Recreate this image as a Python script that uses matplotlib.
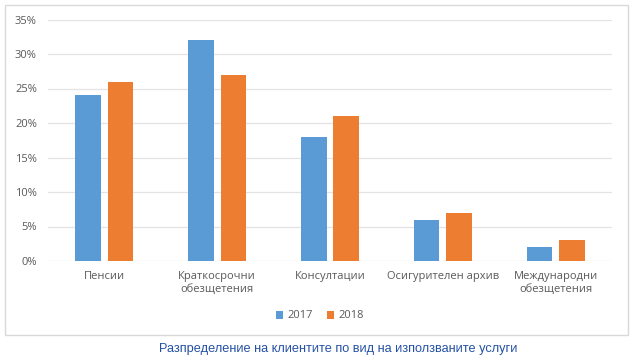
#!/usr/bin/env python3

# +
# import(s)
# -
import numpy as np
import matplotlib as mpl
mpl.use('Agg')
import matplotlib.pyplot as plt
from matplotlib.patches import Rectangle
from matplotlib.ticker import FuncFormatter

# +
# data
# -
categories = ['Пенсии', 'Краткосрочни\nобезщетения', 'Консултации',
              'Осигурителен архив', 'Международни\nобезщетения']
values_2017 = [24, 32, 18, 6, 2]
values_2018 = [26, 27, 21, 7, 3]
series_names = ['2017', '2018']
y_ticks = [0, 5, 10, 15, 20, 25, 30, 35]
caption = 'Разпределение на клиентите по вид на използваните услуги'

# +
# style
# -
plt.rcParams['font.family'] = ['Open Sans', 'DejaVu Sans']
BLUE = '#5B9BD5'
ORANGE = '#ED7D31'
GREY = '#595959'

fig = plt.figure(figsize=(6.35, 3.62), dpi=100)

# outer chart border
fig.patches.append(Rectangle((5 / 635, 1 - 335 / 362), 623 / 635, 330 / 362,
                             transform=fig.transFigure, fill=False,
                             edgecolor='#D9D9D9', linewidth=1.0))

ax = fig.add_axes([48 / 635, 1 - 261 / 362, 564 / 635, 241.5 / 362])

x = np.arange(len(categories))
w = 0.226
off = 0.144
ax.bar(x - off, values_2017, w, color=BLUE, label=series_names[0], zorder=3)
ax.bar(x + off, values_2018, w, color=ORANGE, label=series_names[1], zorder=3)

ax.set_xlim(-0.5, len(categories) - 0.5)
ax.set_ylim(0, 35)
ax.set_yticks(y_ticks)
ax.yaxis.set_major_formatter(FuncFormatter(lambda v, _: f'{int(v)}%'))
ax.set_xticks(x)
ax.set_xticklabels(categories, fontsize=8, color=GREY, linespacing=1.25)
ax.tick_params(axis='y', labelsize=8, labelcolor=GREY, length=0, pad=8)
ax.tick_params(axis='x', length=0, pad=7)
ax.grid(axis='y', color='#E3E3E3', linewidth=0.9, zorder=0)
for s in ax.spines.values():
    s.set_visible(False)

ax.legend(loc='center', bbox_to_anchor=(320 / 635, 1 - 316 / 362),
          bbox_transform=fig.transFigure, ncol=2, frameon=False,
          fontsize=8, labelcolor=GREY, handlelength=0.7, handleheight=0.7,
          handletextpad=0.4, columnspacing=1.2)

fig.text(338 / 635, 1 - 349 / 362, caption, ha='center', va='center',
         fontsize=9.2, color='#2451A4', family='Liberation Sans')

plt.savefig('out.png', dpi=100)
